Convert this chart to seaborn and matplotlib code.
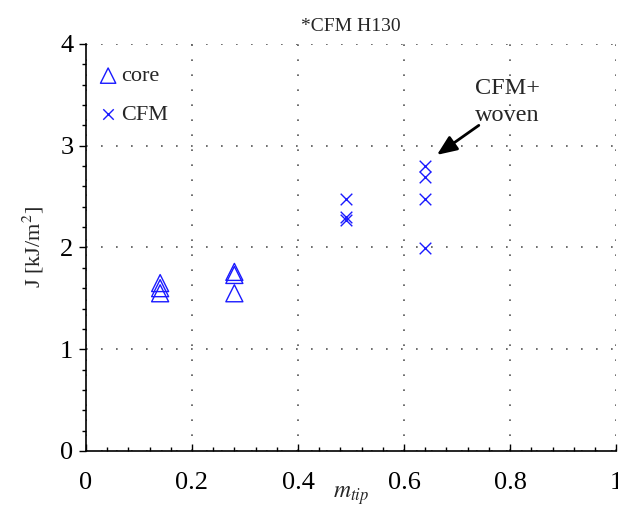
import matplotlib
matplotlib.use("Agg")
import matplotlib.pyplot as plt
import seaborn as sns
import pandas as pd
from matplotlib.ticker import MultipleLocator, FuncFormatter

# Data
core_x = [0.14, 0.14, 0.14, 0.28, 0.28, 0.28]
core_y = [1.65, 1.60, 1.55, 1.76, 1.73, 1.55]
cfm_x = [0.49, 0.49, 0.49, 0.64, 0.64, 0.64, 0.64]
cfm_y = [2.48, 2.30, 2.27, 2.80, 2.69, 2.48, 1.99]
x_ticks = [0, 0.2, 0.4, 0.6, 0.8, 1]
y_ticks = [0, 1, 2, 3, 4]
title = "*CFM H130"

sns.set_style("white")
plt.rcParams['font.family'] = ['Liberation Serif', 'DejaVu Serif']
plt.rcParams['mathtext.fontset'] = 'stix'

fig = plt.figure(figsize=(6.18, 5.09), dpi=100)
ax = fig.add_axes([0.139, 0.114, 0.858, 0.7996])

core_df = pd.DataFrame({"x": core_x, "y": core_y})
cfm_df = pd.DataFrame({"x": cfm_x, "y": cfm_y})

sns.scatterplot(data=core_df, x="x", y="y", marker="^", s=150,
                facecolors="none", edgecolor="#1a1aff", linewidth=1.0,
                label="core", ax=ax, zorder=3)
sns.scatterplot(data=cfm_df, x="x", y="y", marker="x", s=70,
                color="#1a1aff", linewidth=1.0, label="CFM", ax=ax, zorder=3)

ax.set_xlim(0, 1)
ax.set_ylim(0, 4)
ax.set_xticks(x_ticks)
ax.set_yticks(y_ticks)
ax.xaxis.set_major_formatter(FuncFormatter(lambda v, p: "%g" % v))
ax.yaxis.set_major_formatter(FuncFormatter(lambda v, p: "%g" % v))
ax.xaxis.set_minor_locator(MultipleLocator(0.04))
ax.yaxis.set_minor_locator(MultipleLocator(0.2))
ax.tick_params(axis='x', which='both', direction='in', labelsize=19, pad=15,
               bottom=True, colors='black')
ax.tick_params(axis='x', which='major', length=5, width=1)
ax.tick_params(axis='x', which='minor', length=3, width=1)
ax.tick_params(axis='y', which='both', direction='out', labelsize=19, pad=4,
               left=True, colors='black')
ax.tick_params(axis='y', which='major', length=5, width=1)
ax.tick_params(axis='y', which='minor', length=3, width=1)

for s in ['top', 'right']:
    ax.spines[s].set_visible(False)
for s in ['left', 'bottom']:
    ax.spines[s].set_color('black')
    ax.spines[s].set_linewidth(1.2)

ax.grid(True, which='major', color='#555555', linestyle=(0, (1, 8)), linewidth=1.2)
ax.set_axisbelow(True)

ax.set_xlabel(r"$m_{tip}$", fontsize=17, labelpad=-7)
ax.set_ylabel(r"J [kJ/m$^2$]", fontsize=16, labelpad=10)
ax.set_title(title, fontsize=14, pad=9)

leg = ax.legend(loc='upper left', frameon=False, fontsize=16,
                bbox_to_anchor=(0.0, 0.968), borderaxespad=0,
                handlelength=1.2, handletextpad=0.0,
                labelspacing=0.8, markerscale=0.9)

ax.text(0.795, 3.43, "CFM+\nwoven", fontsize=17.5, ha='center', va='center',
        linespacing=1.35)
ax.annotate("", xy=(0.662, 2.91), xytext=(0.741, 3.20),
            arrowprops=dict(arrowstyle='-|>,head_length=0.6,head_width=0.25',
                            color='black', lw=2, mutation_scale=20,
                            shrinkA=0, shrinkB=0))

fig.savefig("out.png", dpi=100)
